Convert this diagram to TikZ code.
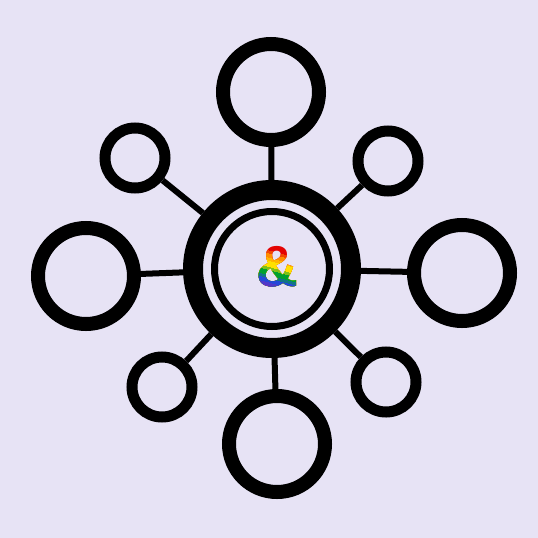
\documentclass[tikz,border=0pt]{standalone}
\usepackage{fontspec}
\setmainfont{Liberation Sans}
\definecolor{bgcol}{RGB}{231,227,245}
\definecolor{prred}{HTML}{E40303}
\definecolor{prorange}{HTML}{FF8C00}
\definecolor{pryellow}{HTML}{FFE000}
\definecolor{prgreen}{HTML}{00A030}
\definecolor{prblue}{HTML}{2448D8}
\definecolor{prviolet}{HTML}{7A2AB8}
\tikzset{
  hub/.style={circle, draw, line width=20pt, minimum size=158pt, inner sep=0pt},
  hubring/.style={circle, draw, line width=7pt, minimum size=115pt, inner sep=0pt},
  bigsat/.style={circle, draw, line width=14pt, minimum size=96pt, inner sep=0pt},
  smallsat/.style={circle, draw, line width=11pt, minimum size=60pt, inner sep=0pt},
  link/.style={line width=6pt},
  ampstyle/.style={inner sep=0pt, font=\bfseries\fontsize{58}{58}\selectfont}
}
\begin{document}
\begin{tikzpicture}[x=1pt, y=-1pt]
        \fill[bgcol] (0,0) rectangle (538,538);
        % hub
        \node[hub] (hub) at (272,269) {};
        \node[hubring] (hubin) at (hub) {};
        % big satellites
        \node[bigsat] (top) at (271,92) {};
        \node[bigsat] (bottom) at (277,444) {};
        \node[bigsat] (left) at (86,276) {};
        \node[bigsat] (right) at (462,273) {};
        % small satellites
        \node[smallsat] (topleft) at (135,158) {};
        \node[smallsat] (topright) at (388,161) {};
        \node[smallsat] (botleft) at (162,387) {};
        \node[smallsat] (botright) at (386,382) {};
        \foreach \s in {top,bottom,left,right,topleft,topright,botleft,botright}
        \draw[link] (hub) -- (\s);
        % rainbow ampersand, one clipped copy per band
        \coordinate (amp) at (277,267);
        \foreach \c/\y in {prred/180, prred!50!prorange/253, prorange/256,
            prorange!50!pryellow/260, pryellow/263, pryellow!50!prgreen/269,
            prgreen/272, prgreen!50!prblue/277, prblue/280,
            prblue!50!prviolet/284, prviolet/287}
        {
          \begin{scope}
            \clip[rotate around={-15:(amp)}] (217,\y) rectangle (337,340);
            \node[ampstyle, text=\c] (ampch) at (amp) {\&};
          \end{scope}
        }
    \end{tikzpicture}
\end{document}
